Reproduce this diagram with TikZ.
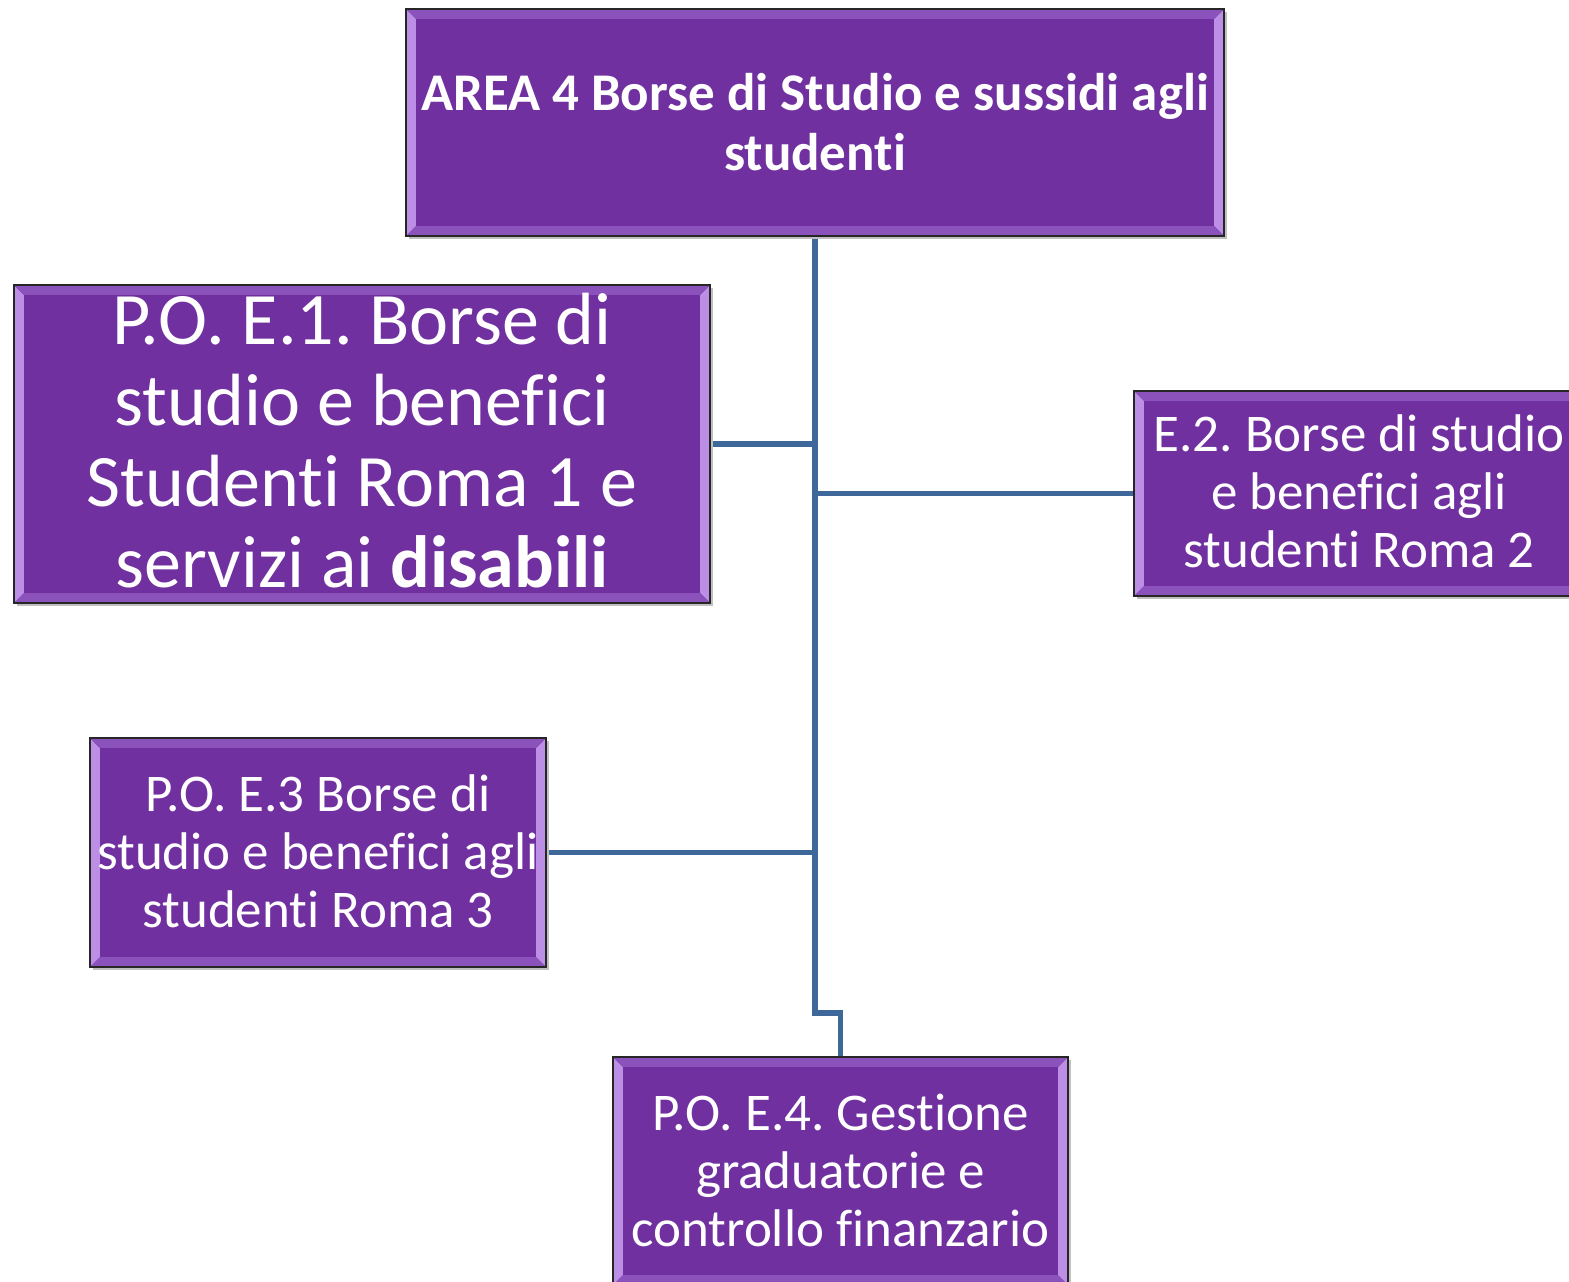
\documentclass[tikz,border=0pt]{standalone}
\usepackage{fontspec}
\setmainfont{Carlito}[Ligatures=NoCommon]
\frenchspacing
\usetikzlibrary{calc}
\definecolor{boxpurple}{HTML}{7030A0}
\definecolor{linkblue}{HTML}{3F689A}
\definecolor{bevside}{HTML}{BC8EE6}
\definecolor{bevtop}{HTML}{8A52BA}
\newcommand\bevelbox[1]{%
  \fill[black!25] ([shift={(3,3)}]#1.north west) rectangle ([shift={(3,3)}]#1.south east);
  \fill[boxpurple] (#1.north west) rectangle (#1.south east);
  \fill[bevside] (#1.north west) -- ([shift={(10,10)}]#1.north west) -- ([shift={(10,-10)}]#1.south west) -- (#1.south west) -- cycle;
  \fill[bevside] (#1.north east) -- ([shift={(-10,10)}]#1.north east) -- ([shift={(-10,-10)}]#1.south east) -- (#1.south east) -- cycle;
  \fill[bevtop] (#1.north west) -- ([shift={(10,10)}]#1.north west) -- ([shift={(-10,10)}]#1.north east) -- (#1.north east) -- cycle;
  \fill[bevtop] (#1.south west) -- ([shift={(10,-10)}]#1.south west) -- ([shift={(-10,-10)}]#1.south east) -- (#1.south east) -- cycle;
  \draw[line width=2pt, black!85] (#1.north west) rectangle (#1.south east);
}
\tikzset{
  orgbox/.style={rectangle, inner sep=0pt, align=center, text=white},
  smalltext/.style={font=\fontsize{53}{58}\selectfont},
  link/.style={draw=linkblue, line width=5.5pt}
}
\begin{document}
\begin{tikzpicture}[x=1pt, y=-1pt]
\useasboundingbox (0,0) rectangle (1569,1282);
\clip (0,0) rectangle (1569,1282);
% geometry holders
\node[orgbox, minimum width=818pt, minimum height=227pt] (top) at (815,122.5) {};
\node[orgbox, minimum width=696pt, minimum height=318pt] (e1) at (362,444) {};
\node[orgbox, minimum width=450pt, minimum height=205pt] (e2) at (1359,493.5) {};
\node[orgbox, minimum width=456pt, minimum height=229pt] (e3) at (318,852.5) {};
\node[orgbox, minimum width=455pt, minimum height=228pt] (e4) at (840.5,1171) {};
% connectors
\draw[link] (top.south) -- (top.south |- 0,1013) coordinate (jog) -| (e4.north);
\draw[link] (e1.east) -- (e1.east -| top.south);
\draw[link] (e2.west) -- (e2.west -| top.south);
\draw[link] (e3.east) -- (e3.east -| top.south);
% boxes
\bevelbox{top}\bevelbox{e1}\bevelbox{e2}\bevelbox{e3}\bevelbox{e4}
% texts
\node[orgbox, font=\bfseries\fontsize{53}{60}\selectfont] (ttop) at (815,122) {AREA 4 Borse di Studio e sussidi agli\\studenti};
\node[orgbox, font=\fontsize{74}{81}\selectfont] (te1) at (362,441) {P.O. E.1. Borse di\\studio e benefici\\Studenti Roma 1 e\\servizi ai \textbf{disabili}};
\node[orgbox, smalltext] (te2) at (1359,491) {E.2. Borse di studio\\e benefici agli\\studenti Roma 2};
\node[orgbox, smalltext] (te3) at (318,851) {P.O. E.3 Borse di\\studio e benefici agli\\studenti Roma 3};
\node[orgbox, smalltext] (te4) at (840.5,1170) {P.O. E.4. Gestione\\graduatorie e\\controllo finanzario};
\end{tikzpicture}
\end{document}
